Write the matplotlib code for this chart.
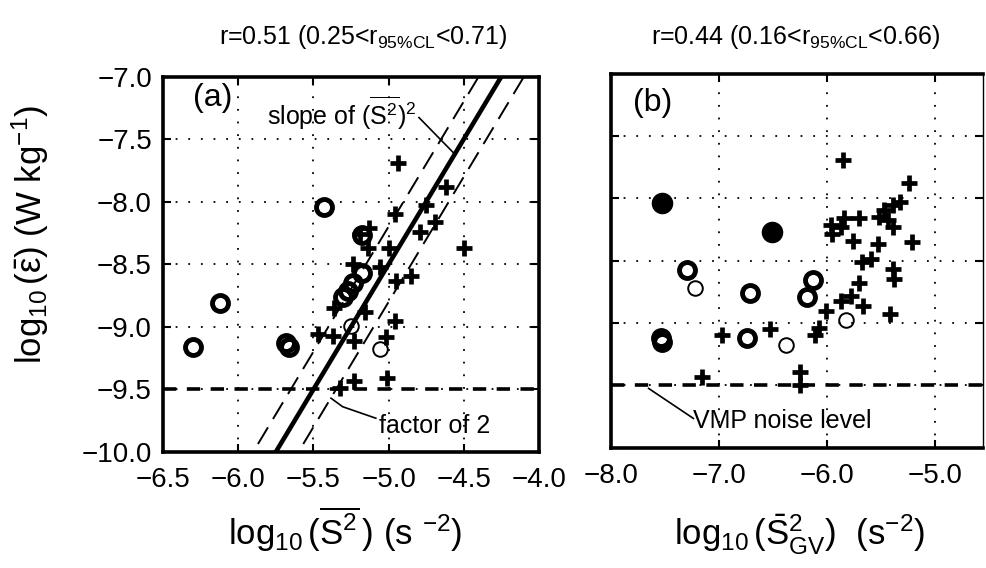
import matplotlib
matplotlib.use("Agg")
import matplotlib.pyplot as plt
from matplotlib.ticker import FuncFormatter, FixedLocator
import numpy as np

plt.rcParams['font.family'] = ['Liberation Sans', 'DejaVu Sans']
plt.rcParams['mathtext.fontset'] = 'custom'
plt.rcParams['mathtext.rm'] = 'Liberation Sans'
plt.rcParams['mathtext.it'] = 'Liberation Sans:italic'
plt.rcParams['mathtext.bf'] = 'Liberation Sans:bold'
plt.rcParams['mathtext.sf'] = 'Liberation Sans'
plt.rcParams['mathtext.default'] = 'regular'

# ---------------- data: panel (a) ----------------
a_thick_circ_x = [-5.43, -6.12, -6.30, -5.66, -5.68, -5.18, -5.18, -5.24, -5.27, -5.30]
a_thick_circ_y = [-8.04, -8.81, -9.16, -9.16, -9.13, -8.27, -8.57, -8.65, -8.71, -8.76]
a_thin_circ_x = [-5.25, -5.06]
a_thin_circ_y = [-8.99, -9.18]
a_plus_x = [-4.94, -4.62, -4.96, -4.75, -4.69, -4.79, -4.50, -5.13, -5.19, -5.00,
            -5.14, -5.06, -5.24, -4.95, -4.85, -5.16, -5.36, -4.96, -5.47, -5.37,
            -5.23, -5.02, -5.23, -5.01, -5.32]
a_plus_y = [-7.69, -7.88, -8.10, -8.03, -8.16, -8.24, -8.37, -8.21, -8.26, -8.37,
            -8.37, -8.52, -8.50, -8.63, -8.59, -8.88, -8.85, -8.95, -9.06, -9.07,
            -9.11, -9.08, -9.43, -9.41, -9.49]

# ---------------- data: panel (b) ----------------
b_filled_x = [-7.53, -6.51]
b_filled_y = [-8.04, -8.27]
b_thick_circ_x = [-7.30, -6.71, -6.13, -6.19, -7.53, -7.54, -6.745]
b_thick_circ_y = [-8.575, -8.76, -8.655, -8.79, -9.15, -9.12, -9.12]
b_thin_circ_x = [-7.22, -6.38, -5.82]
b_thin_circ_y = [-8.72, -9.18, -8.98]
b_plus_x = [-5.854, -5.24, -5.32, -5.39, -5.47, -5.52, -5.44, -5.39, -5.70, -5.84,
            -5.96, -5.87, -5.95, -5.76, -5.53, -5.21, -5.68, -5.59, -5.39, -5.38,
            -5.70, -5.78, -5.87, -5.67, -6.01, -5.42, -6.07, -6.115, -6.53, -6.975,
            -7.16, -6.25, -6.25]
b_plus_y = [-7.69, -7.88, -8.03, -8.055, -8.09, -8.15, -8.17, -8.23, -8.16, -8.16,
            -8.21, -8.23, -8.29, -8.34, -8.37, -8.35, -8.51, -8.49, -8.57, -8.65,
            -8.68, -8.78, -8.82, -8.86, -8.90, -8.93, -9.04, -9.10, -9.05, -9.10,
            -9.43, -9.39, -9.50]

# fit line (slope 2) and factor-of-2 band
fit_slope = 2.0
fit_x0, fit_y0 = -5.0, -8.5
factor2 = np.log10(2.0)
noise_level = -9.5

a_xticks = [-6.5, -6.0, -5.5, -5.0, -4.5, -4.0]
a_xgrid = [-6.0, -5.5, -5.0, -4.5]
b_xticks = [-8.0, -7.0, -6.0, -5.0]
b_xgrid = [-7.0, -6.0, -5.0]
yticks = [-7.0, -7.5, -8.0, -8.5, -9.0, -9.5, -10.0]
ygrid = [-7.5, -8.0, -8.5, -9.0, -9.5]

titles = [r"r=0.51 (0.25<r$_{95\%CL}$<0.71)", r"r=0.44 (0.16<r$_{95\%CL}$<0.66)"]

fig = plt.figure(figsize=(9.86, 5.68), dpi=100)
W, H = 986, 568
axA = fig.add_axes([163 / W, 1 - 452 / H, 376 / W, 375.5 / H])
axB = fig.add_axes([611 / W, 1 - 447.6 / H, 372 / W, 373.9 / H])

grid_kw = dict(color='black', lw=1.3, linestyle=(0, (1, 6.0)), zorder=0.5)
TICKFS = 20
fmt = FuncFormatter(lambda v, p: f"{v:.1f}".replace('-', '\u2212'))

def style(ax, xlim, xticks, xgrid, show_ylabels):
    ax.set_xlim(*xlim)
    ax.set_ylim(-10.0, -7.0)
    for g in xgrid:
        ax.axvline(g, **grid_kw)
    for g in ygrid:
        ax.axhline(g, **grid_kw)
    ax.xaxis.set_major_locator(FixedLocator(xticks))
    ax.yaxis.set_major_locator(FixedLocator(yticks))
    ax.xaxis.set_major_formatter(fmt)
    ax.yaxis.set_major_formatter(fmt)
    ax.tick_params(direction='in', length=6, width=1.5, top=True, right=True,
                   labelsize=TICKFS)
    ax.tick_params(axis='x', pad=11)
    ax.tick_params(axis='y', pad=8)
    if not show_ylabels:
        ax.tick_params(axis='y', labelleft=False)
    for s in ax.spines.values():
        s.set_linewidth(2.6)

style(axA, (-6.5, -4.0), a_xticks, a_xgrid, True)
style(axB, (-8.0, -4.556), b_xticks, b_xgrid, False)
axB.spines['right'].set_linewidth(1.0)

circ_thick = dict(marker='o', ms=11.5, mfc='none', mec='black', mew=3.5, ls='none', zorder=3)
circ_thin = dict(marker='o', ms=10.5, mfc='none', mec='black', mew=1.4, ls='none', zorder=3)
circ_fill = dict(marker='o', ms=14.5, mfc='black', mec='black', mew=1, ls='none', zorder=3)
plus_kw = dict(marker='+', ms=11.5, mec='black', mew=3.4, ls='none', zorder=3)

# ---- panel (a) ----
xs = np.array([-6.5, -4.0])
axA.plot(xs, fit_y0 + fit_slope * (xs - fit_x0), color='black', lw=3.3, zorder=2)
for sgn in (1, -1):
    axA.plot(xs, fit_y0 + sgn * factor2 + fit_slope * (xs - fit_x0), color='black',
             lw=1.4, linestyle=(0, (10, 5)), zorder=2)
axA.axhline(noise_level, color='black', lw=2.6, linestyle=(0, (3.7, 2.9)), zorder=2)
axA.plot(a_plus_x, a_plus_y, **plus_kw)
axA.plot(a_thick_circ_x, a_thick_circ_y, **circ_thick)
axA.plot(a_thin_circ_x, a_thin_circ_y, **circ_thin)

axA.text(-6.30, -7.17, "(a)", fontsize=23, ha='left', va='center')
axA.text(-5.81, -7.29, r"slope of $(\overline{S^2})^2$", fontsize=18, ha='left', va='center')
axA.plot([-4.798, -4.56], [-7.328, -7.62], color='black', lw=1.2, zorder=2)
axA.text(-5.063, -9.79, "factor of 2", fontsize=18, ha='left', va='center')
axA.plot([-5.383, -5.306, -5.085], [-9.57, -9.638, -9.73], color='black', lw=1.2, zorder=2)

axA.set_ylabel(r"$\log_{10}(\bar{\varepsilon})$ (W kg$^{-1}$)", fontsize=25)
axA.yaxis.set_label_coords(-0.297, 0.578)
axA.set_xlabel(r"$\log_{10}(\overline{S^2}\,)$ (s $^{-2}$)", fontsize=25)
axA.xaxis.label.set_verticalalignment('baseline')
axA.xaxis.set_label_coords(0.484, -0.248)
axA.text(0.532, 1.0866, titles[0], transform=axA.transAxes, fontsize=18,
         ha='center', va='baseline')

# ---- panel (b) ----
axB.axhline(noise_level, color='black', lw=2.6, linestyle=(0, (3.7, 2.9)), zorder=2)
axB.plot(b_plus_x, b_plus_y, **plus_kw)
axB.plot(b_thick_circ_x, b_thick_circ_y, **circ_thick)
axB.plot(b_thin_circ_x, b_thin_circ_y, **circ_thin)
axB.plot(b_filled_x, b_filled_y, **circ_fill)

axB.text(-7.794, -7.235, "(b)", fontsize=23, ha='left', va='center')
axB.text(-7.24, -9.79, "VMP noise level", fontsize=18, ha='left', va='center')
axB.plot([-7.652, -7.237], [-9.525, -9.766], color='black', lw=1.2, zorder=2)

axB.set_xlabel(r"$\log_{10}(\bar{S}^2_{GV})$  (s$^{-2}$)", fontsize=25)
axB.xaxis.label.set_verticalalignment('baseline')
axB.xaxis.set_label_coords(0.508, -0.2605)
axB.text(0.497, 1.0794, titles[1], transform=axB.transAxes, fontsize=18,
         ha='center', va='baseline')

fig.savefig("out.png", dpi=100)
